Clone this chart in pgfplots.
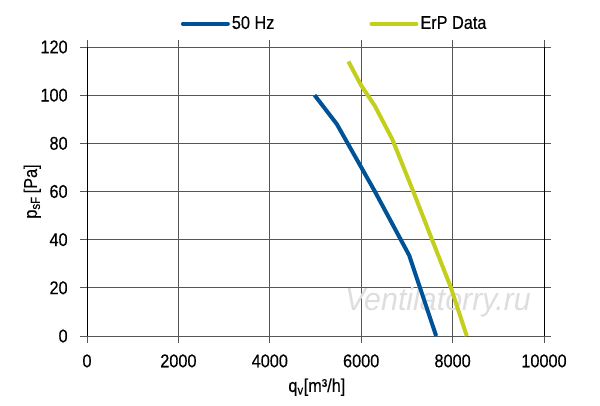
\documentclass[border=0pt]{standalone}
\usepackage{pgfplots}
\pgfplotsset{compat=1.18}
\usepackage{fontspec}
\setmainfont{Liberation Sans}[FakeStretch=0.88, FakeBold=0.35]
\newfontfamily\wmfont{Liberation Sans}[FakeStretch=0.95]
\definecolor{cblue}{RGB}{0,82,150}
\definecolor{cgreen}{RGB}{196,206,28}
\definecolor{gridc}{RGB}{85,85,85}
\begin{document}
\fontsize{18.5}{20}\selectfont
\begin{tikzpicture}
\useasboundingbox (-87pt,-70pt) rectangle (513pt,336pt);
\begin{axis}[
  at={(0,0)}, anchor=south west,
  scale only axis,
  width=457pt, height=289pt,
  xmin=0, xmax=10000, ymin=0, ymax=120,
  xtick={0,2000,...,10000}, ytick={0,20,...,120},
  /pgf/number format/assume math mode=true,
  /pgf/number format/1000 sep={},
  scaled x ticks=false,
  tick align=outside, major tick length=7pt,
  tick style={gridc, line width=0.8pt},
  grid=major,
  major grid style={gridc, line width=0.8pt},
  axis line style={gridc, line width=0.8pt},
  separate axis lines,
  y axis line style={black},
  ticklabel style={font=\fontsize{18.5}{20}\selectfont},
  yticklabel style={xshift=-6pt},
  xticklabel style={yshift=-5pt},
  xlabel={q\textsubscript{v}[m³/h]},
  ylabel={p\textsubscript{sF}\,[Pa]},
  xlabel style={font=\fontsize{18.5}{20}\selectfont, at={(axis description cs:0.503,-0.177)}, anchor=center},
  ylabel style={font=\fontsize{18.5}{20}\selectfont, at={(axis description cs:-0.12,0.5)}, anchor=center},
  legend columns=2,
  legend style={draw=none, fill=none, at={(rel axis cs:0.205,1.08)}, anchor=west,
    font=\fontsize{18.5}{20}\selectfont, inner sep=0pt,
    /tikz/every even column/.append style={column sep=93pt}},
  legend cell align=left,
  legend image code/.code={\draw[#1, line cap=round] (0pt,0pt) -- (45pt,0pt);},
  clip=false,
]
\node[font=\wmfont\itshape\fontsize{32}{34}\selectfont, text=black!13] at (axis cs:7680,14) {Ventilatorry.ru};
\addplot[cblue, line width=4pt, line join=round] coordinates {
(4980,100) (5466,88) (6300,60) (7050,33.5) (7640,0)
};
\addlegendentry{50 Hz}
\addplot[cgreen, line width=4pt, line join=round] coordinates {
(5720,114) (6000,104) (6300,95.5) (6680,81.7) (7150,59.5) (7550,40) (7955,20.5) (8310,0)
};
\addlegendentry{ErP Data}
\end{axis}
\end{tikzpicture}
\end{document}
